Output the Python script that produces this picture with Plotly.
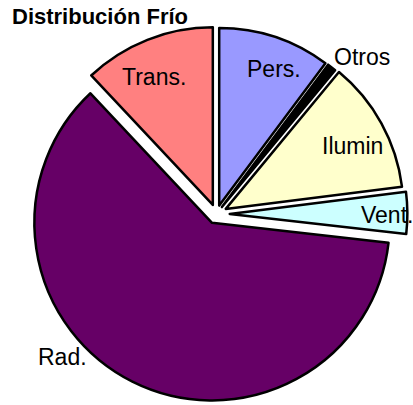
import plotly.graph_objects as go

labels = ["Pers.", "Otros", "Ilumin", "Vent.", "Rad.", "Trans."]
values = [10.2, 0.8, 12.0, 3.8, 61.2, 12.0]
colors = ["#9999FF", "#000000", "#FFFFCC", "#CCFFFF", "#660066", "#FF8080"]
pulls = [0.05, 0.05, 0.06, 0.075, 0.055, 0.055]
# label anchor positions in pixels (x, y from top)
label_pos = [(274, 69), (362, 57), (352, 146), (387, 215), (62, 357), (154, 77)]

W, H = 413, 405

fig = go.Figure(go.Pie(
    labels=labels, values=values, sort=False, direction="clockwise", rotation=0,
    pull=pulls, textinfo="none", hoverinfo="label+percent",
    marker=dict(colors=colors, line=dict(color="#000000", width=2.5)),
    domain=dict(x=[0.0595, 0.9885], y=[0.0, 0.943]),
    showlegend=False,
))

for lab, (px, py) in zip(labels, label_pos):
    fig.add_annotation(x=px / W, y=1 - py / H, xref="paper", yref="paper",
                       text=lab, showarrow=False, xanchor="center", yanchor="middle",
                       font=dict(family="Liberation Sans, Arial", size=23, color="#000000"))

fig.update_layout(
    width=W, height=H,
    margin=dict(l=0, r=0, t=0, b=0),
    paper_bgcolor="white", plot_bgcolor="white",
    title=dict(text="<b>Distribución Frío</b>", x=12 / W, xanchor="left",
               y=1 - 16 / H, yanchor="middle",
               font=dict(family="Liberation Sans, Arial", size=22, color="#000000")),
)

fig.write_html("out.html", config={"displayModeBar": False},
               post_script="document.body.style.margin='0px';")
